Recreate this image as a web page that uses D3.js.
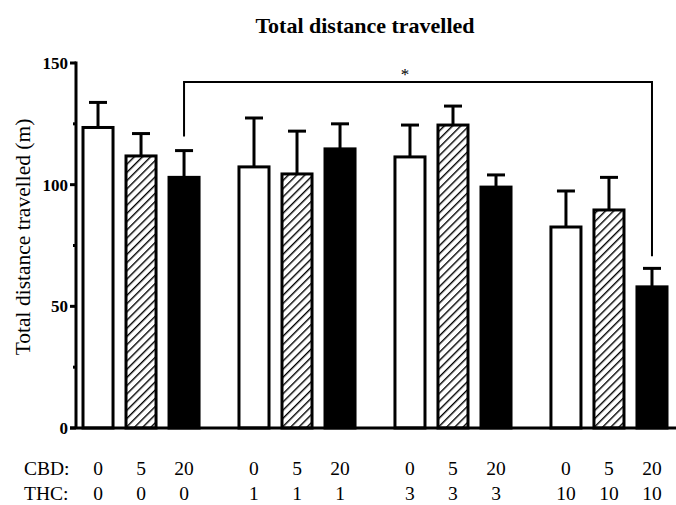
<!DOCTYPE html>
<html>
<head>
<meta charset="utf-8">
<script src="https://cdn.jsdelivr.net/npm/d3@7"></script>
<style>
  body { margin: 0; background: #fff; }
  svg { font-family: "Liberation Serif", "DejaVu Serif", serif; }
</style>
</head>
<body>
<div id="chart"></div>
<script>
const groups = ['THC 0', 'THC 1', 'THC 3', 'THC 10'];
const cbdDoses = ['0', '5', '20'];
const thcDoses = ['0', '1', '3', '10'];
// mean per group, in CBD order 0, 5, 20
const means = [
    [123.5, 111.8, 103],
    [107.3, 104.4, 114.7],
    [111.4, 124.5, 99],
    [82.6, 89.6, 58]
];
const sems = [
    [10.3, 9.2, 11],
    [20.1, 17.6, 10.3],
    [13.1, 7.8, 5],
    [14.8, 13.4, 7.6]
];
const yTicks = [0, 50, 100, 150];
const yMinor = [25, 75, 125];

const width = 676, height = 505;
const svg = d3.select('#chart').append('svg')
    .attr('width', width)
    .attr('height', height);

const defs = svg.append('defs');
const hatch = defs.append('pattern')
    .attr('id', 'hatch')
    .attr('patternUnits', 'userSpaceOnUse')
    .attr('width', 5.8)
    .attr('height', 5.8)
    .attr('patternTransform', 'rotate(45)');
hatch.append('rect').attr('width', 5.8).attr('height', 5.8).attr('fill', '#fff');
hatch.append('line')
    .attr('x1', 0).attr('y1', 0).attr('x2', 0).attr('y2', 5.8)
    .attr('stroke', '#000').attr('stroke-width', 2.8);

const y = d3.scaleLinear().domain([0, 150]).range([428, 63]);
const x0 = d3.scaleBand().domain(groups).range([83, 667]).paddingInner(0.256).paddingOuter(0);
const x1 = d3.scaleBand().domain(cbdDoses).range([0, x0.bandwidth()]).paddingInner(0.302).paddingOuter(0);

const fills = ['#fff', 'url(#hatch)', '#000'];

// title
svg.append('text')
    .attr('x', 365).attr('y', 33)
    .attr('text-anchor', 'middle')
    .attr('font-weight', 'bold')
    .attr('font-size', 22)
    .text('Total distance travelled');

// y label
svg.append('text')
    .attr('transform', 'translate(30,237) rotate(-90)')
    .attr('text-anchor', 'middle')
    .attr('font-size', 21.5)
    .text('Total distance travelled (m)');

// bars + error bars
const barData = [];
groups.forEach((g, gi) => {
    cbdDoses.forEach((c, ci) => {
        barData.push({ g, c, ci, mean: means[gi][ci], sem: sems[gi][ci] });
    });
});

const bars = svg.append('g').selectAll('g')
    .data(barData)
    .enter()
    .append('g')
    .attr('transform', d => `translate(${x0(d.g) + x1(d.c)},0)`);

bars.append('line')
    .attr('x1', x1.bandwidth() / 2).attr('x2', x1.bandwidth() / 2)
    .attr('y1', d => y(d.mean)).attr('y2', d => y(d.mean + d.sem))
    .attr('stroke', '#000').attr('stroke-width', 3);
bars.append('line')
    .attr('x1', x1.bandwidth() / 2 - 9).attr('x2', x1.bandwidth() / 2 + 9)
    .attr('y1', d => y(d.mean + d.sem)).attr('y2', d => y(d.mean + d.sem))
    .attr('stroke', '#000').attr('stroke-width', 3);
bars.append('rect')
    .attr('x', 0)
    .attr('y', d => y(d.mean))
    .attr('width', x1.bandwidth())
    .attr('height', d => y(0) - y(d.mean))
    .attr('fill', d => fills[d.ci])
    .attr('stroke', '#000')
    .attr('stroke-width', 3);

// y axis
const axis = svg.append('g');
axis.append('line')
    .attr('x1', 76).attr('x2', 76)
    .attr('y1', y(150) - 1.5).attr('y2', y(0))
    .attr('stroke', '#000').attr('stroke-width', 3);
axis.append('line')
    .attr('x1', 70).attr('x2', width)
    .attr('y1', y(0)).attr('y2', y(0))
    .attr('stroke', '#000').attr('stroke-width', 3);
axis.selectAll('.major')
    .data(yTicks)
    .enter()
    .append('line')
    .attr('x1', 70).attr('x2', 76)
    .attr('y1', d => y(d)).attr('y2', d => y(d))
    .attr('stroke', '#000').attr('stroke-width', 3);
axis.selectAll('.minor')
    .data(yMinor)
    .enter()
    .append('line')
    .attr('x1', 73).attr('x2', 76)
    .attr('y1', d => y(d)).attr('y2', d => y(d))
    .attr('stroke', '#000').attr('stroke-width', 3);
axis.selectAll('text')
    .data(yTicks)
    .enter()
    .append('text')
    .attr('x', 68).attr('y', d => y(d))
    .attr('dy', '0.35em')
    .attr('text-anchor', 'end')
    .attr('font-weight', 'bold')
    .attr('font-size', 17)
    .text(d => d);

// significance bracket: THC0/CBD20 vs THC10/CBD20
const bx1 = x0(groups[0]) + x1('20') + x1.bandwidth() / 2;
const bx2 = x0(groups[3]) + x1('20') + x1.bandwidth() / 2;
const by = 82;
svg.append('path')
    .attr('d', `M${bx1},${y(means[0][2] + sems[0][2]) - 14}V${by}H${bx2}V${y(means[3][2] + sems[3][2]) - 12}`)
    .attr('fill', 'none')
    .attr('stroke', '#000')
    .attr('stroke-width', 2);
svg.append('text')
    .attr('x', 405).attr('y', 80)
    .attr('text-anchor', 'middle')
    .attr('font-size', 17)
    .text('*');

// dose labels
const labelSize = 19.5;
svg.append('text').attr('x', 24).attr('y', 475).attr('font-size', labelSize).text('CBD:');
svg.append('text').attr('x', 24).attr('y', 500).attr('font-size', labelSize).text('THC:');
svg.append('g').selectAll('text')
    .data(barData)
    .enter()
    .append('text')
    .attr('x', d => x0(d.g) + x1(d.c) + x1.bandwidth() / 2)
    .attr('y', 475)
    .attr('text-anchor', 'middle')
    .attr('font-size', labelSize)
    .text(d => d.c);
svg.append('g').selectAll('text')
    .data(barData)
    .enter()
    .append('text')
    .attr('x', d => x0(d.g) + x1(d.c) + x1.bandwidth() / 2)
    .attr('y', 500)
    .attr('text-anchor', 'middle')
    .attr('font-size', labelSize)
    .text(d => thcDoses[groups.indexOf(d.g)]);
</script>
</body>
</html>
